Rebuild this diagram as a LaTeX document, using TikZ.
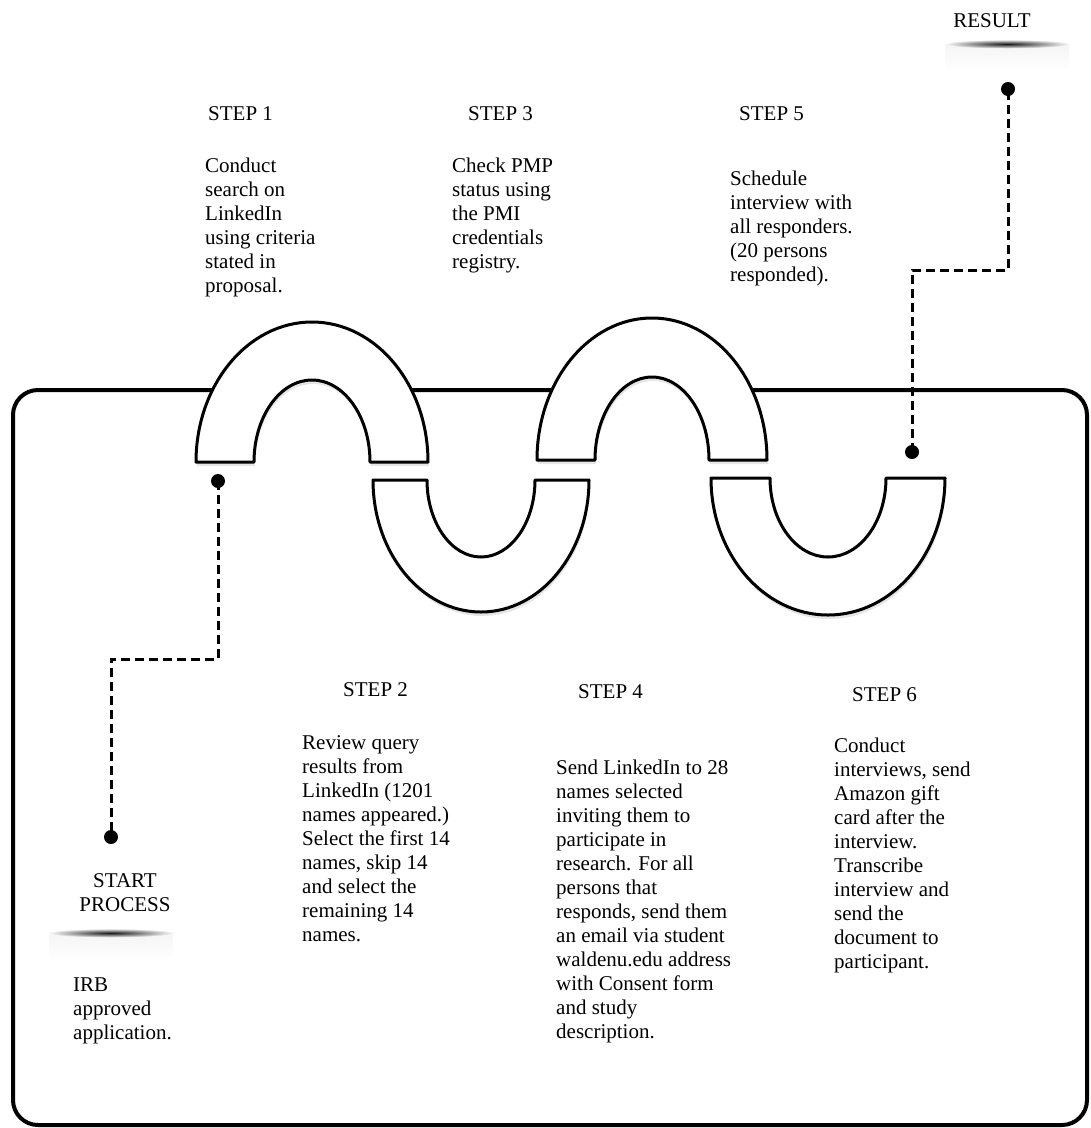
\documentclass[tikz,border=0pt]{standalone}
\usepackage{fontspec}
\setmainfont{Liberation Serif}
\usepackage{tikz}
\usetikzlibrary{shadows}
\tikzset{steptxt/.style={anchor=north west, align=left, inner sep=0pt,
font=\fontsize{21}{24}\selectfont}}
\tikzset{steplbl/.style={anchor=base west, inner sep=0pt,
font=\fontsize{21}{24}\selectfont}}
\tikzset{dot/.style={circle, fill=black, inner sep=0pt, minimum size=14pt}}
\tikzset{conn/.style={line width=3pt, dash pattern=on 9pt off 5pt}}
\tikzset{loop/.style={line width=3pt, fill=white, line join=round,
drop shadow={opacity=.2, shadow xshift=1pt, shadow yshift=-4pt}}}
\newcommand{\archup}[6]{
 \fill[white] (#1-#3,#2) arc[start angle=180, end angle=0, x radius=#3pt, y radius=#4pt] -- cycle;
 \draw[loop] (#1-#3,#2) arc[start angle=180, end angle=0, x radius=#3pt, y radius=#4pt]
 -- (#1+#5,#2) arc[start angle=0, end angle=180, x radius=#5pt, y radius=#6pt] -- cycle;}
\newcommand{\archdown}[6]{
 \draw[loop] (#1-#3,#2) arc[start angle=180, end angle=360, x radius=#3pt, y radius=#4pt]
 -- (#1+#5,#2) arc[start angle=360, end angle=180, x radius=#5pt, y radius=#6pt] -- cycle;}
\newcommand{\floorshade}[2]{
 \shade[top color=black!4, bottom color=white] (#1-62,#2) rectangle (#1+62,#2+28);
 \shade[inner color=black!90, outer color=white] (#1,#2) ellipse [x radius=64pt, y radius=4.5pt];}

\begin{document}
\begin{tikzpicture}[x=1pt, y=-1pt]
\useasboundingbox (0,0) rectangle (1091,1128);

\draw [line width=4pt, rounded corners=25pt] (13,390) rectangle (1087,1125);

\archup{312}{462}{116}{140}{58}{82}
\archup{652}{460}{115}{142}{57}{83}
\archdown{481}{480}{108}{132}{54}{77}
\archdown{828}{478}{117}{137}{58}{79}

\floorshade{111}{933}
\floorshade{1007}{44}

\node [steplbl] (s1lbl) at (208,120) {STEP 1};
\node [steptxt] (s1txt) at (205,158) {Conduct\\search on\\LinkedIn\\using criteria\\stated in\\proposal.};
\node [steplbl] (s3lbl) at (468,120) {STEP 3};
\node [steptxt] (s3txt) at (452,158) {Check PMP\\status using\\the PMI\\credentials\\registry.};
\node [steplbl] (s5lbl) at (739,120) {STEP 5};
\node [steptxt] (s5txt) at (730,171) {Schedule\\interview with\\all responders.\\(20 persons\\responded).};

\node [steplbl] (s2lbl) at (343,696) {STEP 2};
\node [steptxt] (s2txt) at (302,735) {Review query\\results from\\LinkedIn (1201\\names appeared.)\\Select the first 14\\names, skip 14\\and select the\\remaining 14\\names.};
\node [steplbl] (s4lbl) at (578,698) {STEP 4};
\node [steptxt] (s4txt) at (556,760) {Send LinkedIn to 28\\names selected\\inviting them to\\participate in\\research. For all\\persons that\\responds, send them\\an email via student\\waldenu.edu address\\with Consent form\\and study\\description.};
\node [steplbl] (s6lbl) at (852,701) {STEP 6};
\node [steptxt] (s6txt) at (834,738) {Conduct\\interviews, send\\Amazon gift\\card after the\\interview.\\Transcribe\\interview and\\send the\\document to\\participant.};

\node [steptxt, anchor=north, align=center] (start) at (125,873) {START\\PROCESS};
\node [steptxt] (irb) at (73,978) {IRB\\approved\\application.};
\node [steplbl, anchor=base] (result) at (992,27) {RESULT};

\node [dot] (d1) at (218,481) {};
\node [dot] (d2) at (111,837) {};
\node [dot] (d3) at (912,452) {};
\node [dot] (d4) at (1008,89) {};
\coordinate (b1) at (218,659);
\coordinate (b2) at (111,659);
\coordinate (b3) at (912,270);
\coordinate (b4) at (1008,270);

\draw [conn] (d1.center) -- (b1) -- (b2) -- (d2.center);
\draw [conn] (d3.center) -- (b3) -- (b4) -- (d4.center);

\end{tikzpicture}
\end{document}
